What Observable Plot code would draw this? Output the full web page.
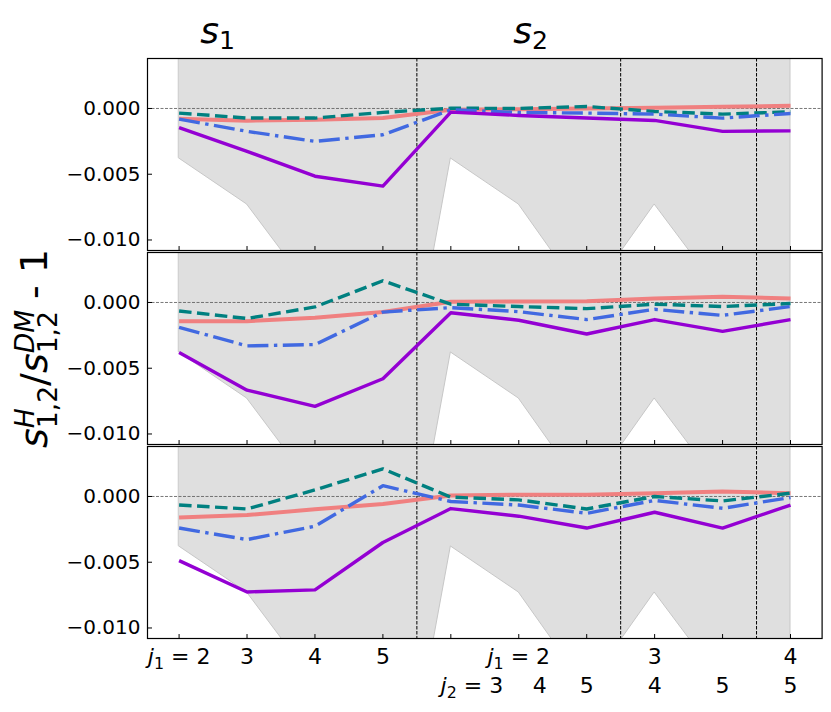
<!DOCTYPE html>
<html>
<head>
<meta charset="utf-8">
<script src="https://cdn.jsdelivr.net/npm/d3@7"></script>
<script src="https://cdn.jsdelivr.net/npm/@observablehq/plot@0.6"></script>
<style>
  html, body { margin: 0; padding: 0; background: white; }
</style>
</head>
<body>
<script>
// ---------- categories / tick labels ----------
const categories = ["j1=2", "3", "4", "5", "2-3", "2-4", "2-5", "3-4", "3-5", "4-5"];
const groupOf   = ["s1", "s1", "s1", "s1", "s2-2", "s2-2", "s2-2", "s2-3", "s2-3", "s2-4"];
const topLabels    = ["j_{1} = 2", "3", "4", "5", "", "j_{1} = 2", "", "3", "", "4"];
const bottomLabels = ["", "", "", "", "j_{2} = 3", "4", "5", "4", "5", "5"];
const titleLabels = ["s_{1}", "s_{2}"];
const titleX = [0.31, 4.92];
const yLabel = "s^{H}_{1,2}/s^{DM}_{1,2} - 1";
const yTicks = [0, -0.005, -0.01];

// ---------- error band (half width) ----------
const bandSigma = [0.0038, 0.0073, 0.0142, 0.032, 0.0038, 0.0073, 0.0146, 0.0073, 0.0142, 0.013];

// ---------- panel 1 ----------
const p1Salmon = [-0.00078, -0.00093, -0.00086, -0.00073, -0.0001, -0.00005, 0.0, 0.00005, 0.00013, 0.0002];
const p1Teal   = [-0.00035, -0.00073, -0.00073, -0.0003, 0.00002, 0.0, 0.00015, -0.00023, -0.00043, -0.00025];
const p1Blue   = [-0.00081, -0.00174, -0.0025, -0.002, -0.0001, -0.0003, -0.00035, -0.00043, -0.00073, -0.00038];
const p1Purple = [-0.00146, -0.00326, -0.00515, -0.0059, -0.00028, -0.00053, -0.00073, -0.00091, -0.00174, -0.0017];
// ---------- panel 2 ----------
const p2Salmon = [-0.00142, -0.00142, -0.00117, -0.00073, 0.00005, 0.00008, 0.0001, 0.0003, 0.00044, 0.0003];
const p2Teal   = [-0.00065, -0.00122, -0.00034, 0.00165, -0.00013, -0.00031, -0.00047, -0.00013, -0.00031, -0.00008];
const p2Blue   = [-0.00189, -0.0033, -0.0032, -0.00073, -0.00039, -0.0007, -0.0013, -0.00052, -0.00098, -0.00031];
const p2Purple = [-0.0038, -0.00667, -0.0079, -0.0058, -0.00078, -0.00135, -0.0024, -0.0013, -0.0022, -0.0013];
// ---------- panel 3 ----------
const p3Salmon = [-0.0016, -0.00141, -0.00098, -0.00057, 0.00008, 0.00013, 0.00013, 0.00025, 0.00038, 0.00025];
const p3Teal   = [-0.00065, -0.00095, 0.0005, 0.0021, -0.00005, -0.00026, -0.00095, 0.0, -0.00034, 0.00025];
const p3Blue   = [-0.0024, -0.00328, -0.00226, 0.00082, -0.00038, -0.00065, -0.00128, -0.0003, -0.0009, -0.00008];
const p3Purple = [-0.00488, -0.00726, -0.0071, -0.0035, -0.00092, -0.0015, -0.0024, -0.0012, -0.0024, -0.00065];

// ---------- build tables ----------
const idx = categories.map((_, i) => i);
const panels = [
  {panel: 1, salmon: p1Salmon, teal: p1Teal, blue: p1Blue, purple: p1Purple},
  {panel: 2, salmon: p2Salmon, teal: p2Teal, blue: p2Blue, purple: p2Purple},
  {panel: 3, salmon: p3Salmon, teal: p3Teal, blue: p3Blue, purple: p3Purple}
];
const seriesKeys = ["salmon", "teal", "blue", "purple"];
const rows = [];
for (const p of panels) for (const s of seriesKeys) p[s].forEach((v, i) => rows.push({panel: p.panel, series: s, i, v}));
const band = bandSigma.map((s, i) => ({i, lo: -s, hi: s}));
const dividers = idx.slice(1).filter(i => groupOf[i] !== groupOf[i - 1]).map(i => i - 0.5);

const styles = {
  salmon: {stroke: "#f08080", strokeWidth: 4, strokeDasharray: null},
  teal:   {stroke: "#008080", strokeWidth: 3.4, strokeDasharray: "12.5,5.5"},
  blue:   {stroke: "#4169e1", strokeWidth: 3.4, strokeDasharray: "21,5.5,3.4,5.5"},
  purple: {stroke: "#9400d3", strokeWidth: 3.4, strokeDasharray: null}
};

// ---------- layout ----------
const W = 831, H = 712, mL = 147, mR = 9.4, mT = 57, mB = 72, padIn = 0.01;
const facetH = (H - mT - mB) / (3 - padIn) * (1 - padIn);
const frameW = W - mL - mR;

const chart = Plot.plot({
  width: W, height: H,
  marginLeft: mL, marginRight: mR, marginTop: mT, marginBottom: mB,
  x: {domain: [-0.465, 9.465]},
  y: {domain: [-0.0108, 0.0038]},
  fy: {domain: [1, 2, 3], axis: null, paddingInner: padIn, paddingOuter: 0},
  style: {fontFamily: "DejaVu Sans", background: "white", color: "black", overflow: "visible"},
  marks: [
    Plot.areaY(band, {x: "i", y1: "lo", y2: "hi", fill: "#dfdfdf", stroke: "#c7c7c7", strokeWidth: 1, clip: true}),
    Plot.ruleY([0], {stroke: "#555", strokeWidth: 0.8, strokeDasharray: "3,1.5"}),
    Plot.ruleX(dividers, {stroke: "black", strokeWidth: 1, strokeDasharray: "3.5,1.5"}),
    ...seriesKeys.map(s => Plot.lineY(rows.filter(d => d.series === s), {
      x: "i", y: "v", fy: "panel",
      stroke: styles[s].stroke, strokeWidth: styles[s].strokeWidth,
      strokeDasharray: styles[s].strokeDasharray,
      strokeLinecap: "butt", strokeLinejoin: "round"
    })),
    // inward ticks
    Plot.ruleX(idx, {stroke: "black", strokeWidth: 1, insetTop: facetH - 5}),
    Plot.ruleY(yTicks, {stroke: "black", strokeWidth: 1, insetRight: frameW - 5}),
    Plot.frame({stroke: "black", strokeWidth: 1.2}),
    Plot.axisY({ticks: yTicks, tickFormat: d3.format(".3f"), tickSize: 0, tickPadding: 7, fontSize: 20}),
    Plot.axisX({ticks: idx, tickFormat: i => topLabels[i], tickSize: 0, tickPadding: 10, fontSize: 22}),
    Plot.axisX({ticks: [4, 5], tickFormat: i => bottomLabels[i], tickSize: 0, tickPadding: 39, fontSize: 22, dx: 21}),
    Plot.axisX({ticks: [6, 7, 8, 9], tickFormat: i => bottomLabels[i], tickSize: 0, tickPadding: 39, fontSize: 22}),
    Plot.text(titleLabels.map((t, k) => ({t, x: titleX[k], panel: 1})), {
      x: "x", text: "t", fy: "panel", frameAnchor: "top", lineAnchor: "bottom",
      textAnchor: "start", dy: -15.3, fontSize: 36
    }),
    Plot.text([{t: yLabel, panel: 2}], {
      text: "t", fy: "panel", frameAnchor: "left", lineAnchor: "bottom",
      textAnchor: "middle", rotate: -90, dx: -101, fontSize: 38
    })
  ]
});

document.body.appendChild(chart);

// ---------- math-style text (italic letters, sub/superscripts) ----------
const NS = "http://www.w3.org/2000/svg";
function richify(el, markup, o) {
  const base = parseFloat(getComputedStyle(el).fontSize) || 20;
  while (el.firstChild) el.removeChild(el.firstChild);
  const tokens = markup.match(/\^\{[^}]*\}|_\{[^}]*\}|[^^_]+/g);
  let cur = 0, lastSup = null;
  for (const tok of tokens) {
    let kind = "n", s = tok;
    if (tok.startsWith("^{")) { kind = "sup"; s = tok.slice(2, -1); }
    else if (tok.startsWith("_{")) { kind = "sub"; s = tok.slice(2, -1); }
    const target = kind === "sup" ? -o.sup * base : kind === "sub" ? o.sub * base : 0;
    const outer = document.createElementNS(NS, "tspan");
    outer.setAttribute("dy", (target - cur).toFixed(2));
    cur = target;
    if (kind !== "n") outer.setAttribute("font-size", (base * o.scale).toFixed(2));
    if (kind === "sub" && lastSup != null) outer.setAttribute("dx", (-lastSup).toFixed(2));
    for (const run of s.match(/[A-Za-z]+|[^A-Za-z]+/g)) {
      const t = document.createElementNS(NS, "tspan");
      if (/[A-Za-z]/.test(run)) t.setAttribute("font-style", "italic");
      t.textContent = run;
      outer.appendChild(t);
    }
    el.appendChild(outer);
    lastSup = kind === "sup" ? outer.getComputedTextLength() : null;
  }
}
d3.select(chart).selectAll("text").each(function () {
  const m = this.textContent;
  if (!(m.includes("_{") || m.includes("^{"))) return;
  if (m.startsWith("s^")) richify(this, m, {sub: 0.28, sup: 0.32, scale: 0.7});
  else if (m.startsWith("s_")) richify(this, m, {sub: 0.16, sup: 0.3, scale: 0.7});
  else richify(this, m, {sub: 0.2, sup: 0.3, scale: 0.72});
  this.setAttribute("xml:space", "preserve");
  this.style.whiteSpace = "pre";
});
</script>
</body>
</html>
